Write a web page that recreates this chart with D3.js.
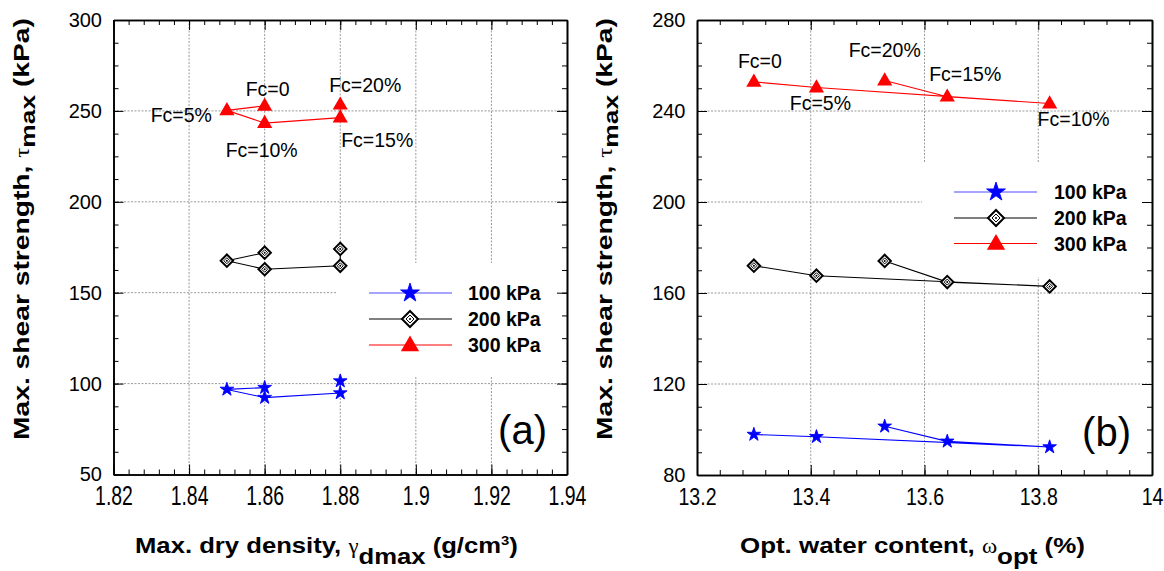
<!DOCTYPE html>
<html>
<head>
<meta charset="utf-8">
<script src="https://cdn.jsdelivr.net/npm/d3@7"></script>
<style>
  body { margin: 0; background: #fff; }
  svg { display: block; }
  text { font-family: "Liberation Sans", Arial, sans-serif; }
</style>
</head>
<body>
<svg id="chart" width="1164" height="571"></svg>
<script>
// ---------- data ----------
const fcLabels     = ["Fc=0", "Fc=5%", "Fc=10%", "Fc=15%", "Fc=20%"];
const dryDensity   = [1.86, 1.85, 1.86, 1.88, 1.88];        // g/cm3
const waterContent = [13.30, 13.41, 13.82, 13.64, 13.53];   // %
const tau100 = [97.8, 96.8, 92.3, 94.8, 101.4];             // kPa
const tau200 = [172.0, 167.6, 162.9, 164.8, 174.1];
const tau300 = [252.8, 250.3, 243.3, 246.3, 253.4];
const seriesNames = ["100 kPa", "200 kPa", "300 kPa"];

const xTicksA      = [1.82, 1.84, 1.86, 1.88, 1.90, 1.92, 1.94];
const xTickLabelsA = ["1.82", "1.84", "1.86", "1.88", "1.9", "1.92", "1.94"];
const yTicksA      = [50, 100, 150, 200, 250, 300];
const xTicksB      = [13.2, 13.4, 13.6, 13.8, 14.0];
const xTickLabelsB = ["13.2", "13.4", "13.6", "13.8", "14"];
const yTicksB      = [80, 120, 160, 200, 240, 280];

// ---------- styles ----------
const seriesStyle = [
  { color: "#0000ff", legendColor: "#4d4dff", shape: "star" },
  { color: "#000000", legendColor: "#000000", shape: "diamond" },
  { color: "#ff0000", legendColor: "#ff0000", shape: "triangle" }
];

const panels = [
  {
    xs: dryDensity, xDomain: [1.82, 1.94], yDomain: [50, 300],
    box: { left: 113.5, right: 567, top: 20, bottom: 474.5 },
    xTicks: xTicksA, xLabels: xTickLabelsA, yTicks: yTicksA,
    xMinor: 0.004, yMinor: 12.5,
    xLabelFont: { size: 27, k: 0.72, pad: 11.5 },
    legend: { x0: 337, y0: 263, y1: 377, lx0: 369, lx1: 452, mx: 410, tx: 468, rows: [293, 319, 345] },
    labelPos: [
      { dx: 3,   dy: -10, anchor: "middle" },
      { dx: -15, dy: 12,  anchor: "end" },
      { dx: -3,  dy: 34,  anchor: "middle" },
      { dx: 37,  dy: 29.5, anchor: "middle" },
      { dx: 25,  dy: -13, anchor: "middle" }
    ],
    tag: "(a)", tagX: 547, tagY: 444,
    xTitle: { parts: ["Max. dry density, ", "γ", "dmax", " (g/cm", "3", ")"], x0: 135, x1: 518, y: 553 },
    yTitleX: 29
  },
  {
    xs: waterContent, xDomain: [13.2, 14.0], yDomain: [80, 280],
    box: { left: 697, right: 1152, top: 20, bottom: 475 },
    xTicks: xTicksB, xLabels: xTickLabelsB, yTicks: yTicksB,
    xMinor: 0.04, yMinor: 10,
    xLabelFont: { size: 23, k: 0.85, pad: 14 },
    legend: { x0: 922, y0: 162, y1: 277, lx0: 954, lx1: 1037, mx: 996, tx: 1054, rows: [192, 218, 243.5] },
    labelPos: [
      { dx: 6,  dy: -14, anchor: "middle" },
      { dx: 4,  dy: 22,  anchor: "middle" },
      { dx: 24, dy: 23,  anchor: "middle" },
      { dx: 18, dy: -16, anchor: "middle" },
      { dx: 0,  dy: -24, anchor: "middle" }
    ],
    tag: "(b)", tagX: 1131, tagY: 446,
    xTitle: { parts: ["Opt. water content, ", "ω", "opt", " (%)"], x0: 740, x1: 1085, y: 553 },
    yTitleX: 612
  }
];

const svg = d3.select("#chart");

// marker drawing
function drawMarker(g, shape, color, cx, cy, big) {
  if (shape === "star") {
    g.append("path")
      .attr("d", d3.symbol(d3.symbolStar, big ? 110 : 58)())
      .attr("transform", `translate(${cx},${cy})`)
      .attr("fill", color).attr("stroke", color).attr("stroke-width", 0.9);
  } else if (shape === "triangle") {
    g.append("path")
      .attr("d", d3.symbol(d3.symbolTriangle, big ? 145 : 100)())
      .attr("transform", `translate(${cx},${cy + (big ? 1 : 0.5)})`)
      .attr("fill", color);
  } else {
    const r = big ? 8 : 6.2, r2 = big ? 4 : 3;
    const dia = s => `M0,${-s}L${s},0L0,${s}L${-s},0Z`;
    const m = g.append("g").attr("transform", `translate(${cx},${cy})`);
    m.append("path").attr("d", dia(r)).attr("fill", "#fff").attr("stroke", color).attr("stroke-width", 2);
    m.append("path").attr("d", dia(r2)).attr("fill", "none").attr("stroke", color).attr("stroke-width", 1);
    m.append("circle").attr("r", 1).attr("fill", color);
  }
}

function fitText(t, x, y, rotate, target) {
  const w = t.node().getComputedTextLength();
  const s = target / w;
  t.attr("transform", `translate(${x},${y}) rotate(${rotate}) scale(${s},1)`);
}

panels.forEach(p => {
  const { left, right, top, bottom } = p.box;
  const x = d3.scaleLinear().domain(p.xDomain).range([left, right]);
  const y = d3.scaleLinear().domain(p.yDomain).range([bottom, top]);
  const g = svg.append("g");

  // grid
  const grid = g.append("g").attr("stroke", "#9a9a9a").attr("stroke-width", 1).attr("stroke-dasharray", "2,1.5");
  p.xTicks.slice(1, -1).forEach(v => grid.append("line")
    .attr("x1", x(v)).attr("x2", x(v)).attr("y1", top).attr("y2", bottom));
  p.yTicks.slice(1, -1).forEach(v => grid.append("line")
    .attr("x1", left).attr("x2", right).attr("y1", y(v)).attr("y2", y(v)));

  // legend background hides the grid behind it
  g.append("rect")
    .attr("x", p.legend.x0).attr("y", p.legend.y0)
    .attr("width", right - p.legend.x0 - 1).attr("height", p.legend.y1 - p.legend.y0)
    .attr("fill", "#fff");

  // series
  const series = [tau100, tau200, tau300];
  series.forEach((vals, si) => {
    const st = seriesStyle[si];
    const pts = vals.map((v, i) => [x(p.xs[i]), y(v)]);
    g.append("path")
      .attr("d", d3.line()(pts))
      .attr("fill", "none").attr("stroke", st.color).attr("stroke-width", 1.1);
    pts.forEach(([cx, cy]) => drawMarker(g, st.shape, st.color, cx, cy, false));
  });

  // Fc labels on the 300 kPa series
  tau300.forEach((v, i) => {
    const lp = p.labelPos[i];
    g.append("text")
      .attr("x", x(p.xs[i]) + lp.dx).attr("y", y(v) + lp.dy)
      .attr("text-anchor", lp.anchor)
      .attr("font-size", 19.5).attr("fill", "#000")
      .text(fcLabels[i]);
  });

  // legend
  seriesNames.forEach((name, si) => {
    const st = seriesStyle[si];
    const ry = p.legend.rows[si];
    g.append("line").attr("x1", p.legend.lx0).attr("x2", p.legend.lx1)
      .attr("y1", ry).attr("y2", ry).attr("stroke", st.legendColor).attr("stroke-width", 1.2);
    drawMarker(g, st.shape, st.color, p.legend.mx, ry, true);
    g.append("text").attr("x", p.legend.tx).attr("y", ry + 7)
      .attr("font-size", 19.5).attr("font-weight", "bold").text(name);
  });

  // axes: ticks pointing inward on all four sides
  const xMinor = d3.range(p.xDomain[0], p.xDomain[1] + p.xMinor / 2, p.xMinor);
  const yMinor = d3.range(p.yDomain[0], p.yDomain[1] + p.yMinor / 2, p.yMinor);
  const axes = [
    [d3.axisBottom, x, `translate(0,${bottom})`, xMinor, p.xTicks],
    [d3.axisTop,    x, `translate(0,${top})`,    xMinor, p.xTicks],
    [d3.axisLeft,   y, `translate(${left},0)`,   yMinor, p.yTicks],
    [d3.axisRight,  y, `translate(${right},0)`,  yMinor, p.yTicks]
  ];
  axes.forEach(([fn, sc, tr, minor, major]) => {
    g.append("g").attr("transform", tr)
      .call(fn(sc).tickValues(minor).tickSize(-5).tickSizeOuter(0).tickFormat(""));
    g.append("g").attr("transform", tr)
      .call(fn(sc).tickValues(major).tickSize(-10).tickSizeOuter(0).tickFormat(""));
  });
  g.selectAll(".domain").attr("stroke", "#000").attr("stroke-width", 1.6);
  g.selectAll(".tick line").attr("stroke", "#000").attr("stroke-width", 1);

  // tick labels
  const xl = g.append("g").attr("transform", `translate(0,${bottom})`)
    .call(d3.axisBottom(x).tickValues(p.xTicks).tickSize(0).tickPadding(p.xLabelFont.pad)
      .tickFormat((d, i) => p.xLabels[i]));
  xl.select(".domain").remove();
  xl.selectAll("text").attr("font-size", p.xLabelFont.size).attr("fill", "#000")
    .attr("font-family", "Liberation Sans, Arial, sans-serif")
    .attr("transform", `scale(${p.xLabelFont.k},1)`);

  const yl = g.append("g").attr("transform", `translate(${left},0)`)
    .call(d3.axisLeft(y).tickValues(p.yTicks).tickSize(0).tickPadding(11.5).tickFormat(d3.format("d")));
  yl.select(".domain").remove();
  yl.selectAll("text").attr("font-size", 20).attr("fill", "#000")
    .attr("font-family", "Liberation Sans, Arial, sans-serif");

  // panel tag
  g.append("text").attr("x", p.tagX).attr("y", p.tagY).attr("text-anchor", "end")
    .attr("font-size", 40).text(p.tag);

  // x axis title
  const xt = p.xTitle;
  const tx = svg.append("text").attr("font-size", 22.5).attr("font-weight", "bold");
  tx.append("tspan").text(xt.parts[0]);
  tx.append("tspan").attr("font-family", "Liberation Serif, serif").attr("font-weight", "normal")
    .attr("font-size", 20).text(xt.parts[1]);
  tx.append("tspan").attr("dy", 11).text(xt.parts[2]);
  tx.append("tspan").attr("dy", -11).text(xt.parts[3]);
  if (xt.parts.length > 4) {
    tx.append("tspan").attr("dy", -8).attr("font-size", 13).text(xt.parts[4]);
    tx.append("tspan").attr("dy", 8).text(xt.parts[5]);
  }
  fitText(tx, xt.x0, xt.y, 0, xt.x1 - xt.x0);

  // y axis title
  const ty = svg.append("text").attr("font-size", 22.5).attr("font-weight", "bold");
  ty.append("tspan").text("Max. shear strength, ");
  ty.append("tspan").attr("font-family", "Liberation Serif, serif").attr("font-weight", "normal")
    .attr("font-size", 20).text("τ");
  ty.append("tspan").attr("dy", 6).attr("font-size", 21).text("max");
  ty.append("tspan").attr("dy", -6).text(" (kPa)");
  fitText(ty, p.yTitleX, 440, -90, 422);
});
</script>
</body>
</html>
